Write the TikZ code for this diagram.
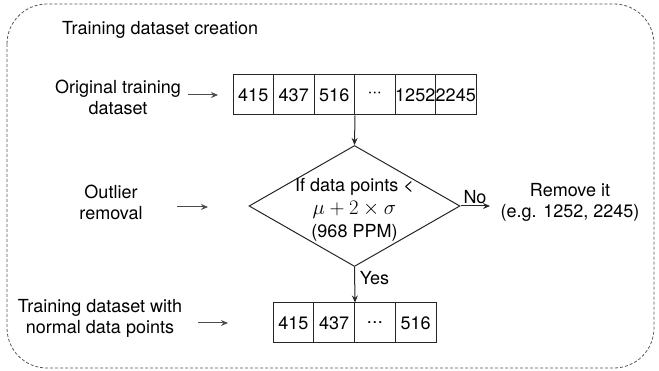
\documentclass[tikz,border=0pt]{standalone}
\usepackage[no-math]{fontspec}
\setmainfont{TeX Gyre Heros}
\usetikzlibrary{shapes.geometric,arrows.meta}

\tikzset{
  txt/.style={font=\fontsize{18}{21}\selectfont, inner sep=0pt, align=center},
  cell/.style={draw=black!85, line width=1pt, minimum height=40pt, inner sep=0pt,
               font=\fontsize{18}{21}\selectfont},
  flow/.style={draw=black!85, line width=1pt, -{Stealth[length=7pt,width=6pt]}},
  side/.style={draw=black!70, line width=1pt, -{Stealth[length=7pt,width=6pt]}},
}
\newcommand{\middots}{\textperiodcentered\kern-0.5pt\textperiodcentered\kern-0.5pt\textperiodcentered}
\newcommand{\lowdots}{.\kern0.5pt.\kern0.5pt.}

\begin{document}
\begin{tikzpicture}[x=1pt,y=-1pt]
\useasboundingbox (0,0) rectangle (659,371);

% dashed frame around the whole process
\draw[black!65, line width=0.8pt, dash pattern=on 3pt off 2pt, rounded corners=40pt]
  (7,4) rectangle (654,368);

\node[txt, anchor=west] (title) at (62,30) {Training dataset creation};

% original data
\foreach \v [count=\i] in {415,437,516,\middots,1252,2245}
  \node[cell, minimum width=40.5pt] (a\i) at ({233+40.5*(\i-0.5)},95) {\v};

% decision
\node[diamond, draw=black!85, line width=1pt, minimum width=211pt, minimum height=121pt,
      inner sep=0pt] (dia) at (354.5,206) {};
\node[txt] (cond1) at (354.5,187) {If data points <};
\node[inner sep=0pt, font=\fontsize{21.5}{22}\selectfont] (cond2) at (354.5,210)
  {$\mu+2\times\sigma$};
\node[txt] (cond3) at (354.5,232.5) {(968 PPM)};

% filtered data
\foreach \v [count=\i] in {415,437,\lowdots,516}
  \node[cell, minimum width=40.75pt] (b\i) at ({273+40.75*(\i-0.5)},323) {\v};

\node[txt] (rem) at (570,202) {Remove it\\(e.g. 1252, 2245)};
\coordinate (noend) at (490,206);

\draw[flow] (a3.south east) -- (dia.north);
\draw[flow] (dia.east) -- (noend);
\node[txt] (no) at (475,197) {No};
\draw[flow] (dia.south) -- (b2.north east);
\node[txt] (yes) at (374.5,278) {Yes};

% step labels on the left
\node[txt] (l1) at (118,97) {Original training\\dataset};
\coordinate (l1s) at (188,95); \coordinate (l1e) at (218,95);
\draw[side] (l1s) -- (l1e);

\node[txt] (l2) at (111,202) {Outlier\\removal};
\coordinate (l2s) at (177,207); \coordinate (l2e) at (208,207);
\draw[side] (l2s) -- (l2e);

\node[txt] (l3) at (100,318) {Training dataset with\\normal data points};
\coordinate (l3s) at (198,323); \coordinate (l3e) at (228,323);
\draw[side] (l3s) -- (l3e);
\end{tikzpicture}
\end{document}
